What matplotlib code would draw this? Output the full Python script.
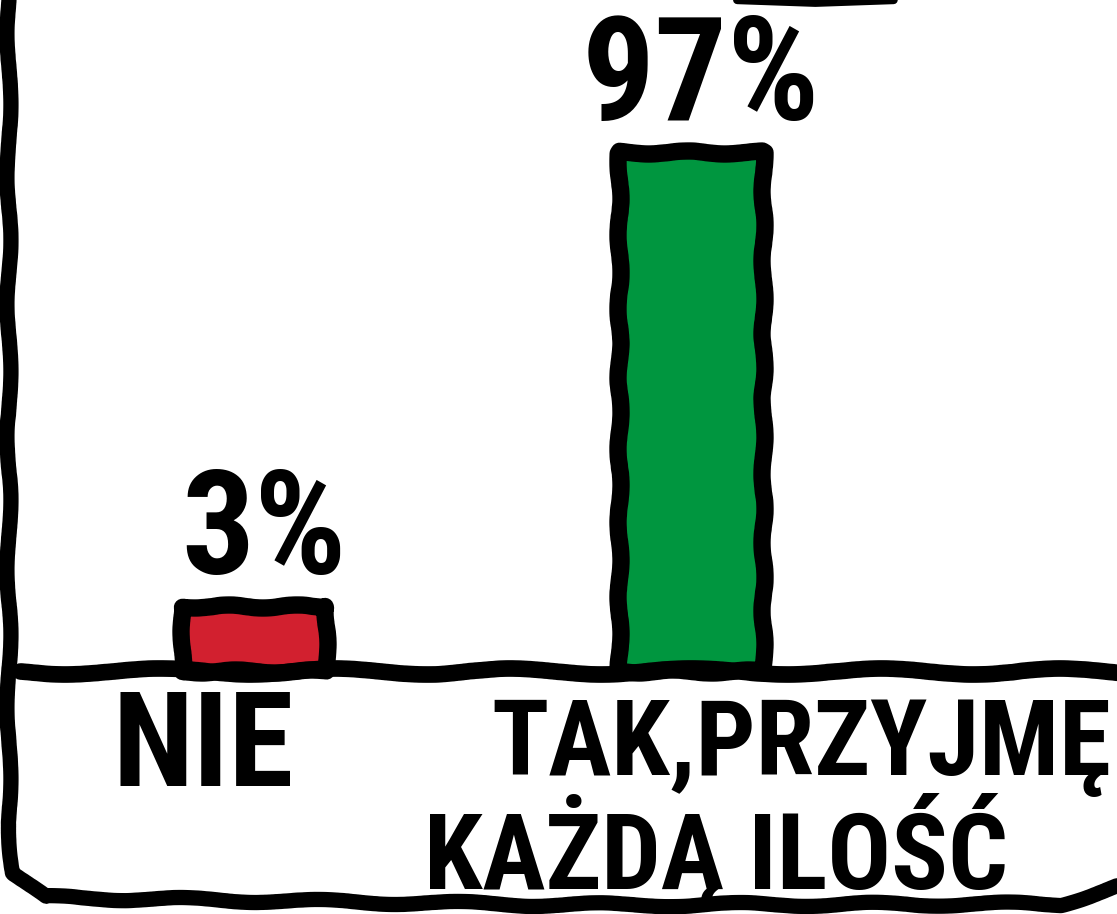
import matplotlib
matplotlib.use("Agg")
import numpy as np
import matplotlib.pyplot as plt

# Dane z rysunku
kategorie = ["NIE", "TAK,PRZYJMĘ\nKAŻDĄ ILOŚĆ"]
wartosci = [3, 97]
kolory = ["#D2202F", "#00963F"]
etykiety = ["3%", "97%"]

czcionka = ["Roboto Condensed", "Liberation Sans", "DejaVu Sans"]


# rysunek odręczny nie jest w skali liniowej - skala potęgowa to oddaje
def w_przod(y):
    y = np.asarray(y, dtype=float)
    return np.sign(y) * np.abs(y) ** 0.6


def w_tyl(y):
    y = np.asarray(y, dtype=float)
    return np.sign(y) * np.abs(y) ** (1 / 0.6)


fig = plt.figure(figsize=(11.17, 9.14), dpi=100)
ax = fig.add_axes([0, 0, 1, 1])
ax.set_yscale("function", functions=(w_przod, w_tyl))
ax.set_xlim(-0.581, 1.975)
ax.set_ylim(-27.5, 148.8)
ax.axis("off")

pozycje = list(range(len(kategorie)))
slupki = ax.bar(pozycje, wartosci, width=0.33, color=kolory,
                edgecolor="black", linewidth=12.5, zorder=3)
for s in slupki:
    s.set_sketch_params(1.5, 80, 2)
    s.set_joinstyle("round")

# linia bazowa
bl = ax.axhline(0, xmin=20 / 1117, xmax=1, color="black", lw=12,
                solid_capstyle="round", zorder=4)
bl.set_sketch_params(3, 200, 2)

# ramka rysunku (lewa i dolna krawedz)
ramka, = ax.plot([0.008, 0.008, 0.012, 0.04, 0.5, 0.95, 1.0],
                 [1.0, 0.1, 0.045, 0.018, 0.01, 0.011, 0.03],
                 transform=ax.transAxes, color="black", lw=11,
                 solid_capstyle="round", solid_joinstyle="round")
ramka.set_sketch_params(2, 150, 2)
gora, = ax.plot([0.66, 0.73, 0.8], [1.0, 0.997, 1.0],
                transform=ax.transAxes, color="black", lw=6,
                solid_capstyle="round")

# wartosci nad slupkami
for x, v, t in zip(pozycje, wartosci, etykiety):
    ax.annotate(t, xy=(x, v), xytext=(10, 32), textcoords="offset pixels",
                ha="center", va="baseline", fontsize=104, fontweight="bold",
                family=czcionka, zorder=5)

# podpisy kategorii
ax.annotate(kategorie[0], xy=(pozycje[0], 0), xytext=(-51, -115),
            textcoords="offset pixels", ha="center", va="baseline",
            fontsize=95, fontweight="bold", family=czcionka)
linia1, linia2 = kategorie[1].split("\n")
ax.annotate(linia1, xy=(pozycje[1], 0), xytext=(110, -104),
            textcoords="offset pixels", ha="center", va="baseline",
            fontsize=76, fontweight="bold", family=czcionka)
ax.annotate(linia2, xy=(pozycje[1], 0), xytext=(25, -218),
            textcoords="offset pixels", ha="center", va="baseline",
            fontsize=76, fontweight="bold", family=czcionka)

fig.savefig("out.png", dpi=100, facecolor="white")
